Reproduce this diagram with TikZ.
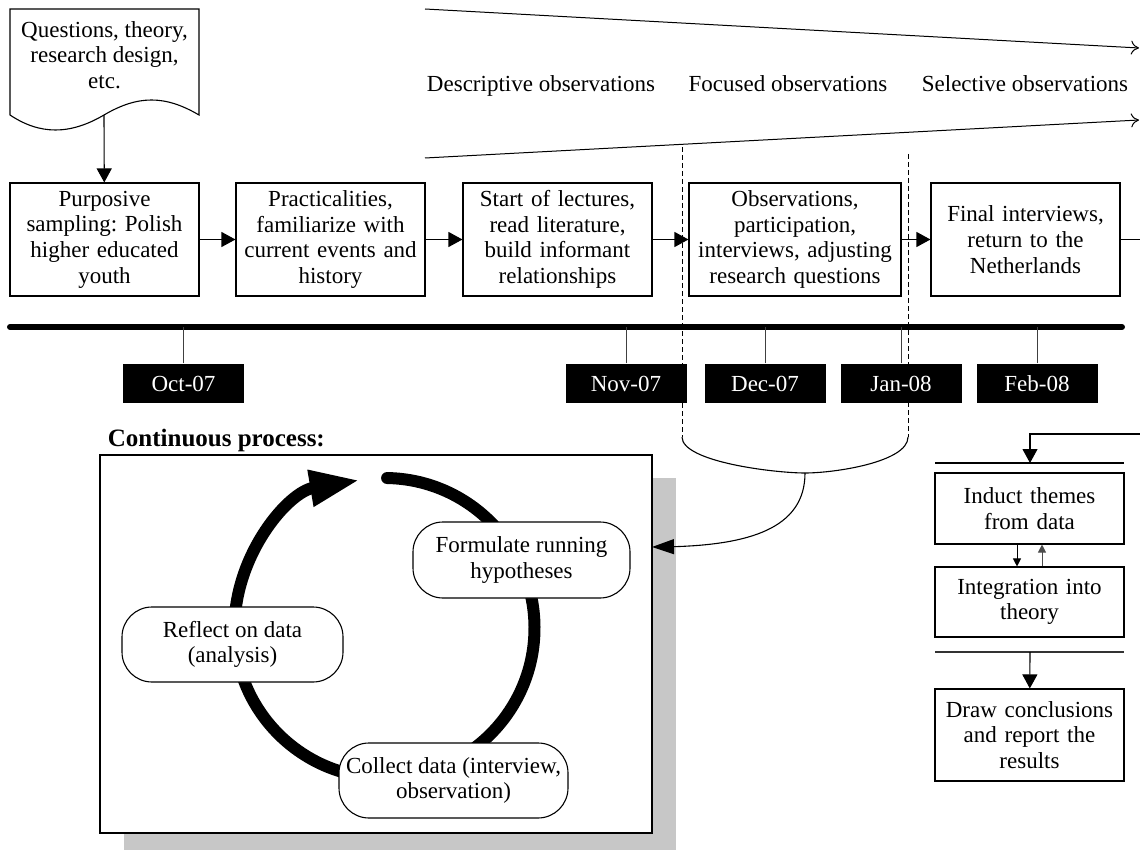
\documentclass[tikz,border=0pt]{standalone}
\usepackage{fontspec}
\setmainfont{Liberation Serif}
\usetikzlibrary{arrows.meta,bending}
\frenchspacing

\begin{document}
\begin{tikzpicture}
  [x=1pt, y=-1pt, line width=1.1pt, font=\fontsize{23}{25.7}\selectfont,
   stagebox/.style={draw, align=center, inner sep=2pt, minimum width=189pt, minimum height=113pt, text width=182pt},
   sidebox/.style={draw, align=center, inner sep=2pt, minimum width=189pt, text width=182pt},
   pillnode/.style={draw, fill=white, rounded corners=30pt, align=center, inner sep=2pt},
   datelabel/.style={fill=black, text=white, minimum width=121pt, minimum height=39pt, inner sep=0pt},
   phaselabel/.style={anchor=base},
   flow/.style={-{Triangle[length=14pt,width=15pt]}},
   smallflow/.style={line width=1pt, -{Triangle[length=8pt,width=8pt]}},
   bigflow/.style={-{Triangle[length=22pt,width=15pt]}},
   wedge/.style={line width=1pt, -{To[length=8pt,width=14pt]}},
   phase/.style={dash pattern=on 5pt off 3pt, line width=0.9pt}]
  \clip (0,0) rectangle (1140,850);

  % starting document
  \node[align=center] (doc) at (104.5,55) {Questions, theory,\\ research design,\\ etc.};
  \coordinate (docbot) at (104,115);
  \draw (docbot) .. controls (70,135) and (40,135) .. (10,115) -- (10,9) -- (199,9) -- (199,115)
        .. controls (165,95) and (138,95) .. (docbot);

  % stages
  \node[stagebox] (sample) at (104.5,239.5) {Purposive\\ sampling: Polish\\ higher educated\\ youth};
  \node[stagebox] (practical) at (330.5,239.5) {Practicalities,\\ familiarize with\\ current events and\\ history};
  \node[stagebox] (lectures) at (557.5,239.5) {Start of lectures,\\ read literature,\\ build informant\\ relationships};
  \node[stagebox, minimum width=212pt, text width=205pt] (observe) at (795,239.5) {Observations,\\ participation,\\ interviews, adjusting\\ research questions};
  \node[stagebox] (final) at (1025.5,239.5) {Final interviews,\\ return to the\\ Netherlands};
  \coordinate (outR) at (1140,239.5);

  \draw[flow] (docbot) -- (sample);
  \draw[flow] (sample) -- (practical);
  \draw[flow] (practical) -- (lectures);
  \draw[flow] (lectures) -- (observe);
  \draw[flow] (observe) -- (final);
  \draw (final) -- (outR);

  % observation wedge
  \coordinate (wTopL) at (425,9);
  \coordinate (wTopR) at (1139,48);
  \coordinate (wBotL) at (425,158);
  \coordinate (wBotR) at (1139,120);
  \draw[wedge] (wTopL) -- (wTopR);
  \draw[wedge] (wBotL) -- (wBotR);
  \node[phaselabel] (descr) at (541,92) {Descriptive observations};
  \node[phaselabel] (focus) at (788,92) {Focused observations};
  \node[phaselabel] (select) at (1025,92) {Selective observations};

  % phase boundaries
  \coordinate (phLt) at (682,147);
  \coordinate (phLb) at (682,437);
  \coordinate (phRt) at (908,154);
  \coordinate (phRb) at (908,437);
  \coordinate (bowl) at (805,473);
  \draw[phase] (phLt) -- (phLb);
  \draw[phase] (phRt) -- (phRb);
  \draw (phLb) .. controls (682,462) and (775,473) .. (bowl) .. controls (835,473) and (908,462) .. (phRb);

  % timeline
  \coordinate (tlL) at (10,327);
  \coordinate (tlR) at (1122,327);
  \draw[line width=6pt, line cap=round] (tlL) -- (tlR);
  \foreach \nm/\x/\txt in {oct/183.5/Oct-07, nov/626/Nov-07, dec/765/Dec-07, jan/901/Jan-08, feb/1037/Feb-08}
  {
    \node[datelabel] (\nm) at (\x,383.5) {\txt};
    \draw[line width=0.9pt, black!75] (\nm.north) -- (\nm.north |- tlL);
  }

  % continuous process
  \node[anchor=west, font=\fontsize{25}{28}\selectfont\bfseries] (conttitle) at (104,440) {Continuous process:};
  \fill[black!22] (124,478) rectangle (676,850);
  \node[draw, fill=white, minimum width=552pt, minimum height=378pt] (cont) at (376,644) {};
  \coordinate (contin) at (652,547);
  \draw[bigflow] (bowl) .. controls (805,535) and (735,547) .. (contin);

  \draw[line width=12pt, line cap=round, -{Triangle[length=50pt,width=34pt,quick]}]
    (384.5,628) ++(-89:150) arc[start angle=-89, end angle=260.5, radius=150];
  \node[pillnode, minimum width=217pt, minimum height=76pt] (formulate) at (521.5,560) {Formulate running\\ hypotheses};
  \node[pillnode, minimum width=221pt, minimum height=75pt] (reflect) at (232.5,644.5) {Reflect on data\\ (analysis)};
  \node[pillnode, minimum width=229pt, minimum height=75pt] (collect) at (453.5,780.5) {Collect data (interview,\\ observation)};

  % analysis column
  \coordinate (fbR) at (1140,434);
  \coordinate (fbC) at (1030,434);
  \coordinate (barA) at (1030,463);
  \coordinate (barB) at (1030,652);
  \draw[flow] (fbR) -- (fbC) -- (barA);
  \draw (935,463) -- (1124,463);
  \node[sidebox, minimum height=71pt] (induct) at (1029.5,508.5) {Induct themes\\ from data};
  \node[sidebox, minimum height=70pt] (integ) at (1029.5,602) {Integration into\\ theory};
  \draw[smallflow] ([xshift=-12.5pt]induct.south) -- ([xshift=-12.5pt]integ.north);
  \draw[smallflow, black!70] ([xshift=12.5pt]integ.north) -- ([xshift=12.5pt]induct.south);
  \draw[black!80] (935,652) -- (1124,652);
  \node[sidebox, minimum height=92pt] (concl) at (1029.5,735) {Draw conclusions\\ and report the\\ results};
  \draw[flow] (barB) -- (concl);
\end{tikzpicture}
\end{document}
